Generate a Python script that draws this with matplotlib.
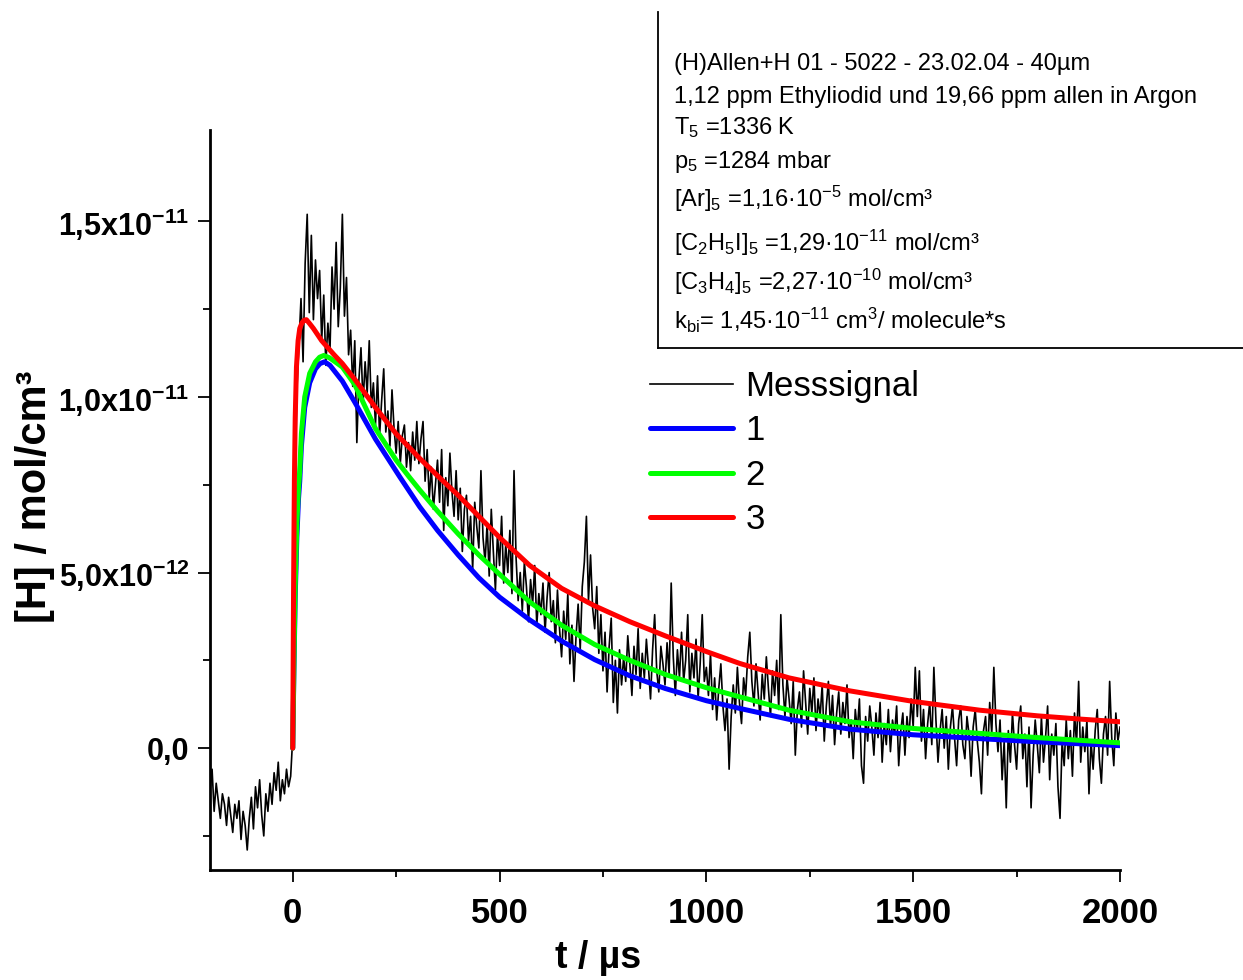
import numpy as np
import matplotlib
matplotlib.use('Agg')
import matplotlib.pyplot as plt
from matplotlib.lines import Line2D
from matplotlib.ticker import MultipleLocator, FixedLocator

plt.rcParams['font.family'] = ['Liberation Sans', 'DejaVu Sans']
plt.rcParams['mathtext.default'] = 'regular'

# measured H signal, 5 us sampling from -200 us, in 1e-12 mol/cm3
T_START, T_STEP = -200, 5
signal = [
    -1.2, -0.6, -1.8, -1.0, -1.5, -2.0, -1.3, -1.6, -2.2, -1.4,
    -1.9, -2.4, -1.6, -2.0, -1.5, -2.6, -1.8, -2.2, -2.9, -2.0,
    -1.4, -2.3, -1.1, -1.7, -0.9, -1.9, -2.5, -1.3, -1.8, -1.0,
    -1.6, -0.7, -1.2, -0.4, -1.5, -0.9, -1.3, -0.6, -1.1, -0.8,
    0.3, 7.0, 10.2, 11.5, 12.8, 11.0, 13.8, 15.2, 12.4, 14.6,
    12.2, 13.9, 12.8, 13.6, 11.6, 12.9, 10.9, 12.1, 11.3, 13.7,
    12.5, 14.4, 12.0, 13.1, 15.2, 12.3, 13.4, 11.2, 11.9, 10.3,
    11.6, 8.7, 10.5, 11.4, 9.8, 11.0, 10.1, 11.6, 9.7, 10.4,
    9.2, 10.6, 8.9, 9.9, 10.8, 9.0, 9.6, 8.6, 10.2, 9.1,
    8.4, 9.3, 8.1, 8.9, 9.2, 8.0, 8.7, 7.9, 9.0, 8.2,
    9.3, 8.1, 8.8, 9.3, 7.6, 8.5, 7.1, 8.0, 6.8, 7.5,
    8.2, 7.0, 8.5, 6.2, 7.7, 6.9, 8.4, 7.3, 6.6, 7.9,
    6.5, 7.4, 5.6, 6.8, 7.2, 5.9, 6.6, 5.1, 7.0, 6.3,
    5.7, 7.9, 6.0, 5.3, 6.4, 4.9, 6.8, 5.6, 4.5, 6.1,
    5.2, 6.6, 4.7, 5.8, 5.0, 6.2, 4.4, 7.9, 5.4, 4.2,
    5.0, 3.9, 5.3, 4.6, 3.6, 4.8, 4.1, 5.2, 3.5, 4.4,
    3.8, 4.7, 3.3, 4.3, 5.0, 3.6, 4.2, 3.0, 4.5, 3.4,
    2.6, 3.9, 3.1, 4.4, 2.4, 3.5, 1.9, 3.2, 4.1, 2.8,
    4.6, 5.3, 6.6, 4.2, 5.5, 4.0, 3.4, 4.6, 2.7, 3.8,
    2.2, 3.3, 1.6, 2.9, 3.7, 1.3, 2.5, 1.0, 2.8, 1.8,
    2.6, 1.9, 3.2, 2.4, 1.5, 2.9, 2.1, 3.4, 1.7, 2.7,
    2.0, 3.1, 2.3, 1.4, 2.8, 3.8, 2.2, 1.6, 2.9, 2.4,
    1.8, 3.0, 2.1, 4.7, 2.6, 1.5, 2.8, 2.0, 3.3, 1.9,
    2.5, 3.8, 1.6, 2.7, 2.0, 3.1, 1.4, 2.4, 3.8, 1.9,
    2.3, 1.5, 2.7, 1.1, 2.0, 0.8, 1.7, 2.4, 1.2, 0.5,
    1.4, -0.6, 0.9, 1.8, 1.0, 2.3, 1.3, 0.7, 2.0, 1.5,
    2.6, 3.3, 1.9, 1.2, 2.4, 1.6, 0.8, 2.1, 1.4, 2.6,
    1.7, 0.9, 2.2, 1.5, 2.5, 1.1, 3.8, 1.8, 0.9, 2.0,
    1.4, 0.7, 1.9, -0.2, 1.1, 1.6, 0.6, 2.2, 1.3, 0.4,
    1.7, 1.0, 2.0, 0.5, 1.4, 0.9, 1.8, 0.2, 1.2, 1.9,
    0.6, 1.5, 0.1, 1.0, 1.6, 0.4, 1.3, 0.7, 1.8, 0.3,
    0.8, -0.3, 1.1, 0.5, 1.4, -0.5, -1.0, 0.9, 0.2, 1.2,
    0.6, -0.2, 1.0, 0.3, 1.3, -0.4, 0.7, 0.1, 1.1, -0.1,
    0.8, 0.4, 1.2, -0.5, 0.5, 1.0, -0.2, 0.9, 0.3, 1.4,
    0.6, 2.3, 0.9, 2.2, 0.2, 1.1, -0.3, 0.7, 1.3, 0.1,
    2.3, 0.8, -0.4, 0.5, 1.1, 0.0, 0.9, -0.6, 0.6, 1.2,
    0.3, -0.5, 0.8, 1.2, 0.1, -0.3, 0.9, 0.4, -0.8, 0.6,
    1.1, 0.2, -0.4, -1.3, 0.5, 0.9, -0.2, 1.3, 0.4, 2.3,
    0.7, -0.1, 0.8, -0.9, 0.2, -1.7, 0.5, -0.4, 1.0, 0.1,
    -0.6, 0.7, 1.2, -0.3, 0.4, -1.1, 0.6, -1.7, -0.2, 0.8,
    0.1, -0.7, 0.9, -0.4, 0.3, 1.2, -0.9, 0.4, -0.2, 0.7,
    -1.1, -2.0, 0.2, -0.5, 0.8, -0.3, 0.5, -0.8, 1.0, 0.1,
    1.9, -0.4, 0.6, -0.1, 0.8, -1.3, 0.2, -0.6, 0.5, 1.1,
    -0.3, -1.0, 0.4, 0.9, -0.2, 1.9, 0.3, -0.5, 1.0, 0.2, 0.6,
]
t_sig = T_START + T_STEP * np.arange(len(signal))

# model curves 1-3 (1e-12 mol/cm3)
fit1_t = [0, 3, 6, 10, 14, 17, 21, 29, 41, 55, 66, 77, 90, 100, 120, 150, 200, 259, 307, 350, 400, 450,
          500, 573, 650, 730, 815, 900, 1000, 1081, 1200, 1347, 1500, 1661, 1800, 2000]
fit1_h = [0, 2.3, 4.3, 6.0, 7.1, 7.6, 8.6, 9.7, 10.4, 10.8, 10.95, 11.0, 10.9, 10.75, 10.45, 9.85, 8.8, 7.72, 6.87, 6.2, 5.5, 4.85,
          4.3, 3.65, 3.05, 2.52, 2.06, 1.7, 1.35, 1.13, 0.82, 0.54, 0.38, 0.27, 0.18, 0.07]
fit2_t = [0, 3, 6, 10, 14, 17, 21, 29, 41, 55, 65, 75, 88, 100, 120, 150, 200, 250, 283, 307, 350, 400, 450,
          500, 573, 650, 730, 815, 900, 1000, 1081, 1200, 1347, 1500, 1661, 1800, 2000]
fit2_h = [0, 2.5, 4.6, 6.4, 7.4, 7.9, 8.96, 10.0, 10.67, 11.0, 11.13, 11.18, 11.12, 11.02, 10.85, 10.35, 9.1, 8.2, 7.7, 7.35, 6.75, 6.1, 5.5,
          4.95, 4.16, 3.5, 2.95, 2.5, 2.1, 1.72, 1.46, 1.08, 0.75, 0.56, 0.42, 0.3, 0.15]
fit3_t = [0, 2, 4, 6, 9, 13, 17, 22, 27, 33, 40, 50, 70, 100, 120, 150, 200, 250, 307, 355, 400, 450,
          500, 573, 650, 730, 815, 900, 1000, 1081, 1200, 1347, 1500, 1661, 1800, 1900, 2000]
fit3_h = [0, 4.5, 7.6, 9.4, 10.85, 11.6, 11.95, 12.1, 12.18, 12.2, 12.1, 11.95, 11.6, 11.2, 10.95, 10.5, 9.7, 8.95, 8.25, 7.7, 7.2, 6.6,
          6.0, 5.2, 4.55, 4.05, 3.6, 3.2, 2.75, 2.41, 2.0, 1.63, 1.33, 1.08, 0.92, 0.83, 0.75]

ytick_vals = [0, 5e-12, 1e-11, 1.5e-11]
ytick_labels = ['0,0', '5,0x10$^{-12}$', '1,0x10$^{-11}$', '1,5x10$^{-11}$']
info_lines = [
    '(H)Allen+H 01 - 5022 - 23.02.04 - 40µm',
    '1,12 ppm Ethyliodid und 19,66 ppm allen in Argon',
    'T$_5$ =1336 K',
    'p$_5$ =1284 mbar',
    '[Ar]$_5$ =1,16·10$^{-5}$ mol/cm³',
    '[C$_2$H$_5$I]$_5$ =1,29·10$^{-11}$ mol/cm³',
    '[C$_3$H$_4$]$_5$ =2,27·10$^{-10}$ mol/cm³',
    'k$_{bi}$= 1,45·10$^{-11}$ cm$^3$/ molecule*s',
]
info_baselines = [70, 103, 134, 168, 207, 251, 290, 329]  # px from top

W, H = 1243, 980
fig = plt.figure(figsize=(W / 100, H / 100), dpi=100)
ax = fig.add_axes([210 / W, 1 - 870 / H, 910 / W, 740 / H])

E = 1e-12
ax.plot(t_sig, np.array(signal) * E, color='black', lw=1.2, label='Messsignal')
ax.plot(fit1_t, np.array(fit1_h) * E, color='#0000ff', lw=3.6, solid_capstyle='round', label='1')
ax.plot(fit2_t, np.array(fit2_h) * E, color='#00ff00', lw=3.6, solid_capstyle='round', label='2')
ax.plot(fit3_t, np.array(fit3_h) * E, color='#ff0000', lw=3.6, solid_capstyle='round', label='3')

ax.set_xlim(-200, 2000)
ax.set_ylim(-3.47e-12, 1.76e-11)
for s in ['top', 'right']:
    ax.spines[s].set_visible(False)
for s in ['left', 'bottom']:
    ax.spines[s].set_linewidth(2)
ax.xaxis.set_major_locator(MultipleLocator(500))
ax.xaxis.set_minor_locator(MultipleLocator(250))
ax.yaxis.set_major_locator(FixedLocator(ytick_vals))
ax.yaxis.set_minor_locator(FixedLocator([-2.5e-12, 2.5e-12, 7.5e-12, 1.25e-11]))
ax.set_yticklabels(ytick_labels, fontsize=22, fontweight='bold')
ax.tick_params(which='major', direction='out', length=8.6, width=1.3)
ax.tick_params(which='minor', direction='out', length=5, width=1.3)
ax.tick_params(axis='y', pad=6)
ax.tick_params(axis='x', pad=11)
for lab in ax.get_xticklabels():
    lab.set_fontweight('bold')
    lab.set_fontsize(25)

ax.set_xlabel('t / µs', fontweight='bold', fontsize=27)
ax.xaxis.set_label_coords(0.426, -0.094)
ax.set_ylabel('[H] / mol/cm³', fontweight='bold', fontsize=30)
ax.yaxis.set_label_coords(-0.17, 0.505)

ax.legend(loc='upper left', bbox_to_anchor=(650 / W, 1 - 370 / H), bbox_transform=fig.transFigure,
          frameon=False, borderpad=0, borderaxespad=0, handlelength=2.4, handletextpad=0.35,
          labelspacing=0.33, fontsize=25)

# parameter box (cut off at the top and right edge)
fig.add_artist(Line2D([658 / W, 658 / W], [1 - 12 / H, 1 - 348 / H], transform=fig.transFigure, color='black', lw=1.3))
fig.add_artist(Line2D([658 / W, 1.0], [1 - 348 / H, 1 - 348 / H], transform=fig.transFigure, color='black', lw=1.3))
for txt, yb in zip(info_lines, info_baselines):
    fig.text(674 / W, 1 - yb / H, txt, fontsize=17, va='baseline', ha='left')

fig.savefig('out.png', dpi=100)
